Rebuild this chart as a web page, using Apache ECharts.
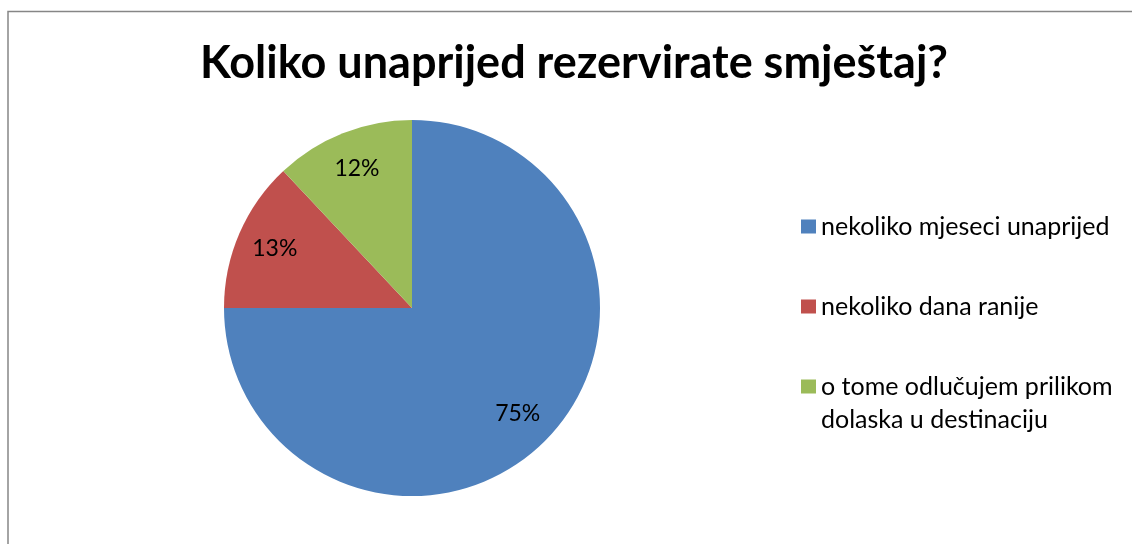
<!DOCTYPE html>
<html>
<head>
<meta charset="utf-8">
<title>Koliko unaprijed rezervirate smještaj?</title>
<script src="https://cdn.jsdelivr.net/npm/echarts@6/dist/echarts.min.js"></script>
<style>
  html, body { margin: 0; padding: 0; background: #fff; }
  #chart { width: 1132px; height: 544px; }
</style>
</head>
<body>
<div id="chart"></div>
<script>
// podaci
const chartTitle = 'Koliko unaprijed rezervirate smještaj?'
const categories = ['nekoliko mjeseci unaprijed', 'nekoliko dana ranije', 'o tome odlučujem prilikom dolaska u destinaciju']
const shares = [75, 13, 12] // postotci

const palette = ['#4F81BD', '#C0504D', '#9BBB59']
const FONT = 'Lato'

const chart = echarts.init(document.getElementById('chart'))

const pieData = categories.map((name, i) => ({ name: name, value: shares[i] }))
const legendTops = [210, 290, 337] // gornji rub svake legende

// treća stavka ide u dva reda, a kvadratić stoji uz prvi red (zato prazan red ispred)
function legendText(name, i) {
  if (i !== 2) return name
  return '\n' + name.replace(' dolaska', '\ndolaska')
}

const option = {
  animation: false,
  color: palette,
  title: {
    text: chartTitle,
    left: 200,
    top: 41,
    padding: 0,
    textStyle: { fontFamily: FONT, fontSize: 45, fontWeight: 'bold', color: '#000' }
  },
  legend: categories.map((name, i) => ({
    data: [name],
    orient: 'vertical',
    left: 801,
    top: legendTops[i],
    padding: 0,
    icon: 'rect',
    itemWidth: 15,
    itemHeight: 14,
    selectedMode: false,
    formatter: n => legendText(n, i),
    textStyle: {
      fontFamily: FONT,
      fontSize: 25,
      color: '#000',
      lineHeight: 33
    }
  })),
  graphic: [{
    type: 'rect',
    silent: true,
    shape: { x: 8, y: 11.5, width: 1200, height: 600 },
    style: { fill: 'none', stroke: '#868686', lineWidth: 1.5 }
  }],
  series: [
    { // vidljivi kolač
      type: 'pie',
      center: [412, 308],
      radius: [0, 188],
      startAngle: 90,
      clockwise: true,
      data: pieData,
      label: { show: false },
      labelLine: { show: false },
      emphasis: { disabled: true },
      itemStyle: { borderWidth: 0 }
    },
    { // prozirni prsten samo za oznake postotaka
      type: 'pie',
      center: [412, 308],
      radius: [105, 188],
      startAngle: 90,
      clockwise: true,
      silent: true,
      data: pieData,
      itemStyle: { color: 'transparent', borderWidth: 0 },
      emphasis: { disabled: true },
      labelLine: { show: false },
      label: {
        show: true,
        position: 'inside',
        formatter: '{c}%',
        fontFamily: FONT,
        fontSize: 23,
        color: '#000'
      }
    }
  ]
}

chart.setOption(option)
</script>
</body>
</html>
